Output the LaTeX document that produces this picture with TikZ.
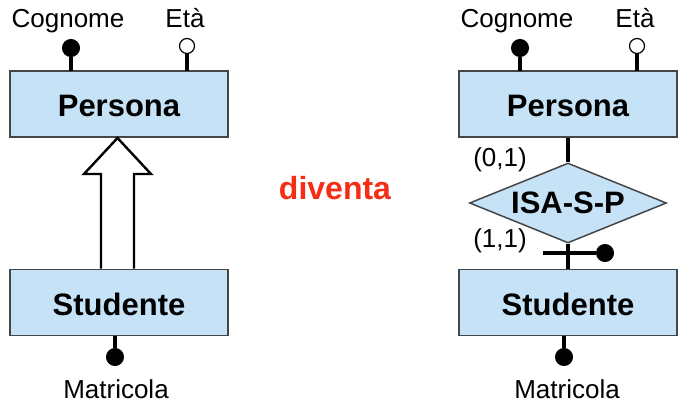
\documentclass[tikz,border=0pt]{standalone}
\usepackage{fontspec}
\setmainfont{Liberation Sans}
\usetikzlibrary{shapes.geometric}
\definecolor{boxfill}{RGB}{197,226,247}
\definecolor{boxline}{RGB}{70,70,70}
\definecolor{redtxt}{RGB}{245,45,20}
\tikzset{
  entity/.style={draw=boxline, line width=1.5pt, fill=boxfill, minimum width=218pt, minimum height=66pt, inner sep=0pt},
  ename/.style={font=\fontsize{31}{31}\selectfont\bfseries, anchor=base, inner sep=0pt},
  lbl/.style={font=\fontsize{26}{26}\selectfont, anchor=base, inner sep=0pt},
  dotf/.style={circle, fill=black, draw=black, line width=1pt, minimum size=17pt, inner sep=0pt},
  doto/.style={circle, fill=white, draw=black, line width=1.2pt, minimum size=15pt, inner sep=0pt},
  stem/.style={line width=3.2pt, black},
}
\begin{document}
\begin{tikzpicture}[x=1pt, y=-1pt]
\useasboundingbox (0,0) rectangle (684,404);
% ---------- left ----------
\node[entity] (P1) at (119,104) {};
\node[ename] at (119,116) {Persona};
\node[entity] (S1) at (119,302.5) {};
\node[ename] at (119,315) {Studente};
\node[lbl] at (68,28) {Cognome};
\node[lbl] at (185,28) {Età};
\node[dotf] (c1) at (71,48) {};
\node[doto] (e1) at (187,46) {};
\coordinate (c1b) at (71,71);
\coordinate (e1b) at (187,71);
\draw[stem] (c1) -- (c1b);
\draw[stem] (e1) -- (e1b);
\node[dotf] (m1) at (115,357) {};
\coordinate (m1t) at (115,336);
\draw[stem] (m1t) -- (m1);
\node[lbl] at (116,398) {Matricola};
% hollow arrow
\draw[line width=2.4pt, fill=white, line join=miter]
  (101,268.5) -- (101,174) -- (84,174) -- (117.5,138) -- (151,174) -- (134,174) -- (134,268.5);
% ---------- middle ----------
\node[font=\fontsize{32}{32}\selectfont\bfseries, text=redtxt, anchor=base, inner sep=0pt] at (335,199) {diventa};
% ---------- right ----------
\node[entity] (P2) at (568,104) {};
\node[ename] at (568,116) {Persona};
\node[entity] (S2) at (568,302.5) {};
\node[ename] at (568,315) {Studente};
\node[lbl] at (517,28) {Cognome};
\node[lbl] at (635,28) {Età};
\node[dotf] (c2) at (520,48) {};
\node[doto] (e2) at (637,46) {};
\coordinate (c2b) at (520,71);
\coordinate (e2b) at (637,71);
\draw[stem] (c2) -- (c2b);
\draw[stem] (e2) -- (e2b);
\node[dotf] (m2) at (564,357) {};
\coordinate (m2t) at (564,336);
\draw[stem] (m2t) -- (m2);
\node[lbl] at (567,398) {Matricola};
% relationship
\node[diamond, draw=boxline, line width=1.5pt, fill=boxfill, minimum width=197pt, minimum height=80pt, inner sep=0pt] (R) at (568,203) {};
\node[ename] at (568,213) {ISA-S-P};
\draw[stem] (P2.south) -- (R.north);
\draw[stem] (R.south) -- (S2.north);
\node[lbl] at (500,166) {(0,1)};
\node[lbl] at (500,247) {(1,1)};
\node[dotf] (k) at (605,253) {};
\coordinate (kl) at (543,253);
\draw[stem] (kl) -- (k);
\end{tikzpicture}
\end{document}
